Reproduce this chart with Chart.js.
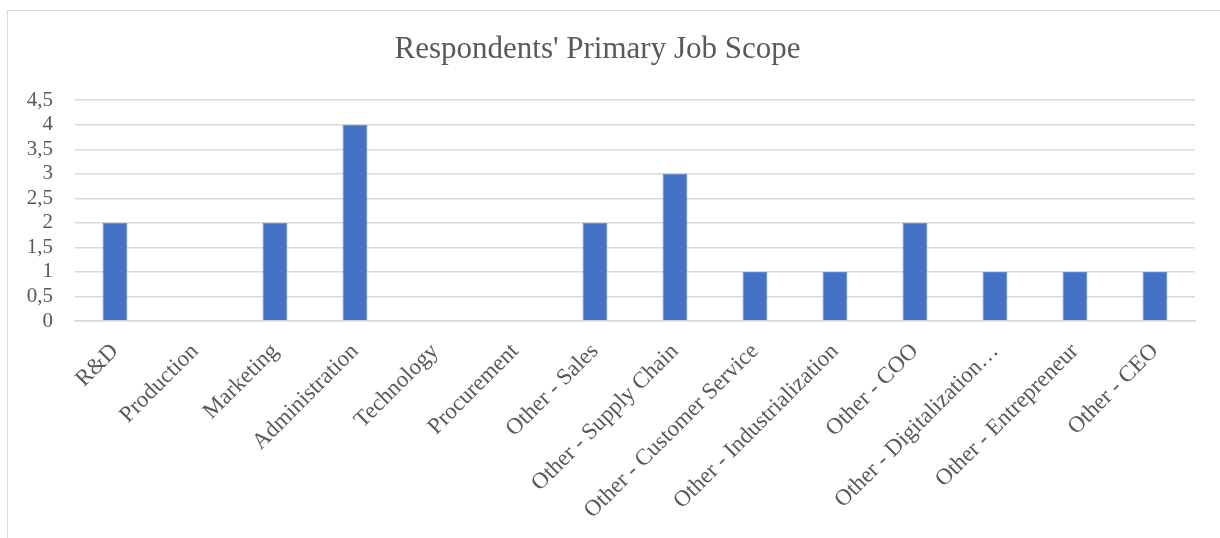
<!DOCTYPE html>
<html>
<head>
<meta charset="utf-8">
<script src="https://cdn.jsdelivr.net/npm/chart.js@4"></script>
<style>
  html, body { margin: 0; padding: 0; background: #fff; overflow: hidden; }
  #frame { position: absolute; left: 7px; top: 10px; width: 1260px; height: 600px; border: 1px solid #d9d9d9; }
  #wrap { position: absolute; left: 0; top: 0; width: 1220px; height: 538px; }
</style>
</head>
<body>
<div id="frame"></div>
<div id="wrap"><canvas id="grafico"></canvas></div>
<script>
const categorias = [
  'R&D', 'Production', 'Marketing', 'Administration', 'Technology', 'Procurement',
  'Other - Sales', 'Other - Supply Chain', 'Other - Customer Service',
  'Other - Industrialization', 'Other - COO', 'Other - Digitalization…',
  'Other - Entrepreneur', 'Other - CEO'
];
const respuestas = [2, 0, 2, 4, 0, 0, 2, 3, 1, 1, 2, 1, 1, 1];
const tituloGrafico = "Respondents' Primary Job Scope";

const gris = '#595959';
const fuente = "'Liberation Serif', 'Times New Roman', serif";

const ctx = document.getElementById('grafico').getContext('2d');
new Chart(ctx, {
  type: 'bar',
  data: {
    labels: categorias,
    datasets: [{
      label: 'Respondents',
      data: respuestas,
      backgroundColor: '#4472C4',
      borderColor: '#5b84cc',
      borderWidth: 1,
      barPercentage: 0.62,
      categoryPercentage: 0.5
    }]
  },
  options: {
    responsive: true,
    maintainAspectRatio: false,
    animation: false,
    layout: { padding: { top: 0, right: 25, left: 0, bottom: 0 } },
    plugins: {
      legend: { display: false },
      tooltip: { enabled: false },
      title: {
        display: true,
        text: tituloGrafico,
        color: gris,
        font: { family: fuente, size: 31, weight: 'normal' },
        padding: { top: 31, bottom: 32 }
      }
    },
    scales: {
      x: {
        grid: { display: false },
        border: { color: '#d9d9d9', width: 1.5 },
        ticks: {
          color: gris,
          font: { family: fuente, size: 23 },
          maxRotation: 45,
          minRotation: 45,
          autoSkip: false,
          padding: 9
        },
        afterFit: (scale) => { scale.height = 217; }
      },
      y: {
        min: 0,
        max: 4.5,
        grid: { color: '#d9d9d9', lineWidth: 1.5, drawTicks: false },
        border: { display: false },
        ticks: {
          stepSize: 0.5,
          autoSkip: false,
          color: gris,
          padding: 22,
          font: { family: fuente, size: 21 },
          callback: (v) => String(v).replace('.', ',')
        },
        afterFit: (scale) => { scale.width = 75; }
      }
    }
  }
});
</script>
</body>
</html>
